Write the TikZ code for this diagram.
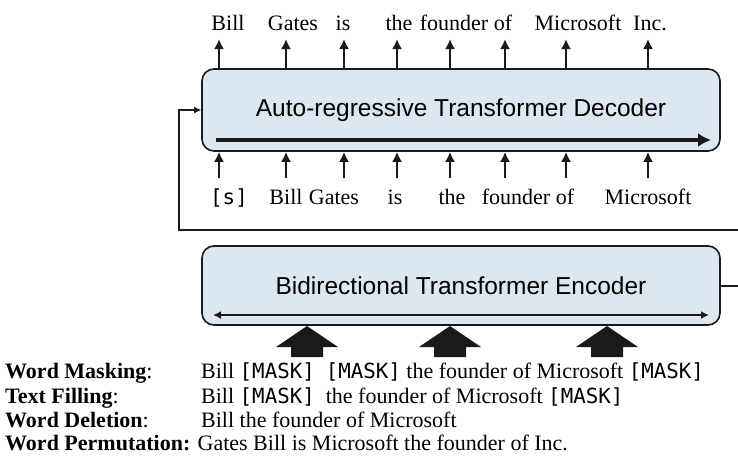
\documentclass[tikz,border=0pt]{standalone}
\usepackage{fontspec}
\setmainfont{Liberation Serif}
\setsansfont{Liberation Sans}
\setmonofont{DejaVu Sans Mono}
\usepackage{tikz}
\usepackage{xcolor}
\usetikzlibrary{arrows.meta,positioning,calc}
\definecolor{ink}{HTML}{1A1A1A}
\definecolor{boxbg}{HTML}{DDE7F1}
\newcommand{\wordfont}{\fontsize{22}{24}\selectfont}
\newcommand{\blockfont}{\sffamily\fontsize{24.5}{26}\selectfont}
\newcommand{\tok}[1]{{\ttfamily\fontsize{20.8}{22}\selectfont #1}}
\tikzset{
  block/.style={draw=ink,fill=boxbg,line width=1.6pt,rounded corners=12pt,
                minimum width=518pt,minimum height=80pt,inner sep=0pt,
                font=\blockfont},
  word/.style={font=\wordfont,inner sep=0pt,anchor=base},
  rowlabel/.style={font=\wordfont,inner sep=0pt,anchor=base west},
  tokarr/.style={-{Latex[length=10pt,width=10pt]},line width=2pt,color=ink},
  flowarr/.style={-{Latex[length=13pt,width=14pt]},line width=4pt,color=ink},
  bothsarr/.style={{Latex[length=8pt,width=8pt]}-{Latex[length=8pt,width=8pt]},line width=1.6pt,color=ink},
  backarr/.style={-{Latex[length=7pt,width=7pt]},line width=2pt,color=ink}
}

\begin{document}
\begin{tikzpicture}[x=1pt,y=-1pt,>=Latex]
  \useasboundingbox (0,0) rectangle (738,464);

  % the two blocks
  \node[block,minimum height=82pt] (dec) at (461,110) {Auto-regressive Transformer Decoder};
  \node[block,minimum height=79pt] (enc) at (461,285.5) {Bidirectional Transformer Encoder};

  % left-to-right arrow inside the decoder
  \coordinate (decl) at (216,140);
  \coordinate (decr) at (711,140);
  \draw[flowarr] (decl) -- (decr);

  % both ways inside the encoder
  \coordinate (encl) at (213,315);
  \coordinate (encr) at (709,315);
  \draw[bothsarr] (encl) -- (encr);

  % decoder inputs and outputs
  \foreach \ax [count=\i] in {219,286,344,397,450,505,566,648} {
    \coordinate (up\i) at (\ax,39);
    \coordinate (in\i) at (\ax,178);
    \draw[tokarr] (dec.north -| up\i) -- (up\i);
    \draw[tokarr] (in\i) -- (dec.south -| in\i);
  }

  % output words
  \foreach \wx/\w [count=\i] in {228/Bill,293/Gates,343/is,399/the,454/founder,503/of,578/Microsoft,650/Inc.} {
    \node[word] (out\i) at (\wx,30) {\w};
  }

  % input words
  \node[word] (inw1) at (229,204) {\tok{[s]}};
  \foreach \wx/\w [count=\i from 2] in {286/Bill,334/Gates,395/is,452/the,516/founder,565/of,648/Microsoft} {
    \node[word] (inw\i) at (\wx,204) {\w};
  }

  % encoder output fed back to the decoder
  \coordinate (encout) at (738,285.5);
  \coordinate (fbin) at (738,230);
  \coordinate (fbturn) at (179,230);
  \draw[line width=2pt,color=ink] (enc.east) -- (encout);
  \draw[backarr] (fbin) -- (fbturn) |- (dec.west);

  % corrupted inputs
  \foreach \bx in {307,450,607} {
    \fill[ink] (\bx,326) -- ({\bx+31},347) -- ({\bx+16},347) -- ({\bx+16},357)
      -- ({\bx-16},357) -- ({\bx-16},347) -- ({\bx-31},347) -- cycle;
  }

  \node[rowlabel] (lmask) at (5,378) {\textbf{Word Masking}:};
  \node[rowlabel] (tmask) at (201,378) {Bill \tok{[MASK]}\ \ \tok{[MASK]} the founder of Microsoft \tok{[MASK]}};
  \node[rowlabel] (lfill) at (5,403) {\textbf{Text Filling}:};
  \node[rowlabel] (tfill) at (201,403) {Bill \tok{[MASK]}\ \ the founder of Microsoft \tok{[MASK]}};
  \node[rowlabel] (ldel) at (5,427) {\textbf{Word Deletion}:};
  \node[rowlabel] (tdel) at (201,427) {Bill the founder of Microsoft};
  \node[rowlabel] (lperm) at (5,450) {\textbf{Word Permutation:} Gates Bill is Microsoft the founder of Inc.};
\end{tikzpicture}
\end{document}
